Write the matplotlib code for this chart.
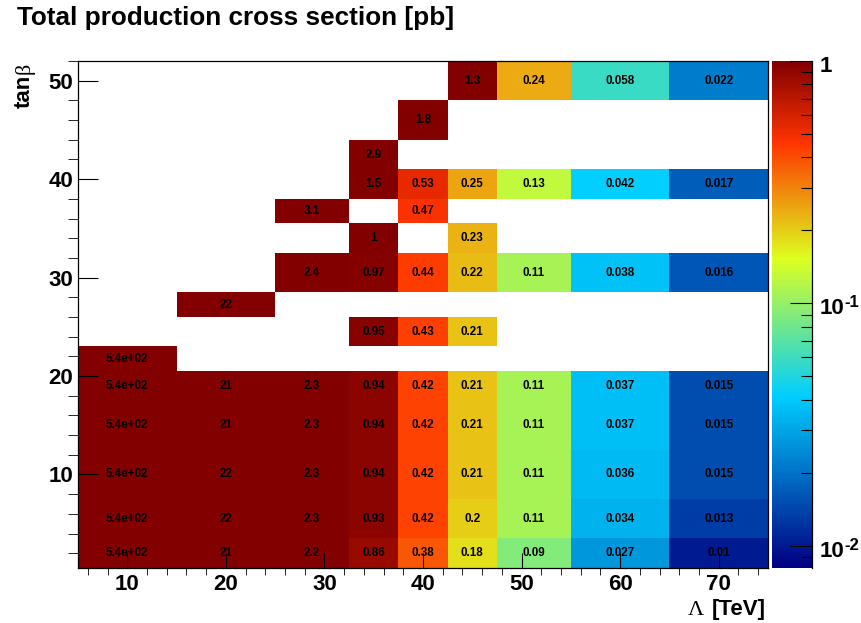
import numpy as np
import matplotlib
matplotlib.use('Agg')
import matplotlib.pyplot as plt
from matplotlib.colors import LinearSegmentedColormap, LogNorm
from matplotlib.ticker import MultipleLocator, LogLocator, NullFormatter

plt.rcParams['font.family'] = ['Liberation Sans', 'DejaVu Sans']

# bin edges of the scan grid
lam_edges = [5, 15, 25, 32.5, 37.5, 42.5, 47.5, 55, 65, 75]
tanb_edges = [0.5, 3.5, 7.5, 12.5, 17.5, 20.5, 23, 26, 28.5, 32.5, 35.5, 38, 41, 44, 48, 52]

n = np.nan
# total cross section [pb]; rows = tanb bins (bottom up), cols = Lambda bins
xsec = [
    [540, 21, 2.2, 0.86, 0.38, 0.18, 0.09, 0.027, 0.01],
    [540, 22, 2.3, 0.93, 0.42, 0.2, 0.11, 0.034, 0.013],
    [540, 22, 2.3, 0.94, 0.42, 0.21, 0.11, 0.036, 0.015],
    [540, 21, 2.3, 0.94, 0.42, 0.21, 0.11, 0.037, 0.015],
    [540, 21, 2.3, 0.94, 0.42, 0.21, 0.11, 0.037, 0.015],
    [540, n, n, n, n, n, n, n, n],
    [n, n, n, 0.95, 0.43, 0.21, n, n, n],
    [n, 22, n, n, n, n, n, n, n],
    [n, n, 2.4, 0.97, 0.44, 0.22, 0.11, 0.038, 0.016],
    [n, n, n, 1, n, 0.23, n, n, n],
    [n, n, 3.1, n, 0.47, n, n, n, n],
    [n, n, n, 1.5, 0.53, 0.25, 0.13, 0.042, 0.017],
    [n, n, n, 2.9, n, n, n, n, n],
    [n, n, n, n, 1.8, n, n, n, n],
    [n, n, n, n, n, 1.3, 0.24, 0.058, 0.022],
]

z_min, z_max = 0.0081, 1.0
z_ticks = [0.01, 0.1, 1]
z_labels = [('10', '-2'), ('10', '-1'), ('1', '')]

W, H = 862, 623
fig = plt.figure(figsize=(W / 100, H / 100), dpi=100)
ax = fig.add_axes([78 / W, 1 - 568 / H, 690 / W, 507 / H])
cax = fig.add_axes([772 / W, 1 - 568 / H, 40 / W, 507 / H])

# ROOT-like rainbow palette
cmap = LinearSegmentedColormap.from_list('rainbow_root', [
    (0.00, (0.00, 0.00, 0.51)),
    (0.34, (0.00, 0.81, 1.00)),
    (0.61, (0.87, 1.00, 0.12)),
    (0.84, (1.00, 0.20, 0.00)),
    (1.00, (0.51, 0.00, 0.00)),
], N=255)
norm = LogNorm(vmin=z_min, vmax=z_max)

z = np.ma.masked_invalid(np.array(xsec, dtype=float))
mesh = ax.pcolormesh(lam_edges, tanb_edges, z, cmap=cmap, norm=norm)

xc = 0.5 * (np.array(lam_edges[:-1]) + np.array(lam_edges[1:]))
yc = 0.5 * (np.array(tanb_edges[:-1]) + np.array(tanb_edges[1:]))
for i, row in enumerate(xsec):
    for j, v in enumerate(row):
        if np.isnan(v):
            continue
        ax.text(xc[j], yc[i], '%.2g' % v, ha='center', va='center',
                fontsize=8.4, fontweight='bold', color='black')

ax.set_xlim(5, 75)
ax.set_ylim(0.5, 52)
ax.set_xticks([10, 20, 30, 40, 50, 60, 70])
ax.set_yticks([10, 20, 30, 40, 50])
ax.xaxis.set_minor_locator(MultipleLocator(2))
ax.yaxis.set_minor_locator(MultipleLocator(2))
ax.tick_params(direction='in', top=False, right=False, width=0.8, labelsize=16)
ax.tick_params(axis='x', which='major', length=10.8, pad=4.5)
ax.tick_params(axis='x', which='minor', length=5.2)
ax.tick_params(axis='y', which='major', length=14.4, pad=3.5)
ax.tick_params(axis='y', which='minor', length=7.2)
for lab in ax.get_xticklabels() + ax.get_yticklabels():
    lab.set_fontweight('bold')
for sp in ax.spines.values():
    sp.set_linewidth(0.9)

# color scale
cbar = fig.colorbar(mesh, cax=cax)
cbar.outline.set_visible(False)
cax.plot([1, 1], [0, 1], transform=cax.transAxes, color='black', lw=0.9, clip_on=False)
cax.yaxis.set_ticks(z_ticks)
cax.yaxis.set_ticklabels([])
cax.yaxis.set_minor_locator(LogLocator(base=10, subs=np.arange(2, 10), numticks=20))
cax.yaxis.set_minor_formatter(NullFormatter())
cax.tick_params(which='major', direction='in', length=15.8, width=0.8)
cax.tick_params(which='minor', direction='in', length=8, width=0.8)

# power-of-ten labels drawn by hand, ROOT style
ytr = cax.get_yaxis_transform()
for val, (base, expo) in zip(z_ticks, z_labels):
    cax.annotate(base, xy=(1, val), xycoords=ytr, xytext=(5.4, -7.9),
                 textcoords='offset points', ha='left', va='baseline',
                 fontsize=16, fontweight='bold', annotation_clip=False)
    if expo:
        cax.annotate(expo, xy=(1, val), xycoords=ytr, xytext=(5.4 + 17.8, -2.9),
                     textcoords='offset points', ha='left', va='baseline',
                     fontsize=12, fontweight='bold', annotation_clip=False)

fig.text(17 / W, 1 - 25 / H, 'Total production cross section [pb]',
         fontsize=18.8, fontweight='bold', ha='left', va='baseline')

# axis titles, greek letters in a serif face
fig.text(766 / W, 1 - 615 / H, '[TeV]', fontsize=16, fontweight='bold',
         ha='right', va='baseline')
fig.text(704 / W, 1 - 615 / H, 'Λ', fontsize=16, family='Liberation Serif',
         ha='right', va='baseline')

renderer = fig.canvas.get_renderer()
t_tan = fig.text(30 / W, 1 - 108 / H, 'tan', fontsize=16, fontweight='bold',
                 rotation=90, rotation_mode='anchor', ha='left', va='baseline')
ext = t_tan.get_window_extent(renderer)
fig.text(30 / W, (ext.y1 + 1) / H, 'β', fontsize=16, family='Liberation Serif',
         rotation=90, rotation_mode='anchor', ha='left', va='baseline')

fig.savefig('out.png', dpi=100)
